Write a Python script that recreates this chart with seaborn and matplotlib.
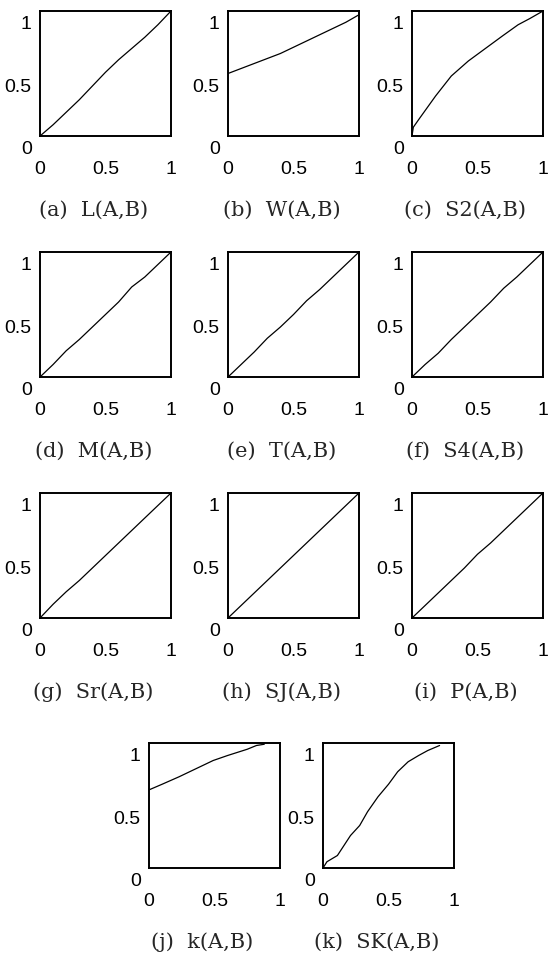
import numpy as np
import pandas as pd
import matplotlib
matplotlib.use("Agg")
import matplotlib.pyplot as plt
from matplotlib.transforms import ScaledTranslation
import seaborn as sns

# -------------------------------------
# DATA
# -------------------------------------
labels = ["(a)  L(A,B)", "(b)  W(A,B)", "(c)  S2(A,B)",
          "(d)  M(A,B)", "(e)  T(A,B)", "(f)  S4(A,B)",
          "(g)  Sr(A,B)", "(h)  SJ(A,B)", "(i)  P(A,B)",
          "(j)  k(A,B)", "(k)  SK(A,B)"]

x_std = [0.0, 0.1, 0.2, 0.3, 0.4, 0.5, 0.6, 0.7, 0.8, 0.9, 1.0]

y_L = [0.0, 0.09, 0.19, 0.29, 0.40, 0.51, 0.61, 0.70, 0.79, 0.89, 1.0]
y_W = [0.50, 0.54, 0.58, 0.62, 0.66, 0.71, 0.76, 0.81, 0.86, 0.91, 0.97]
x_S2 = [0.0, 0.01, 0.05, 0.18, 0.3, 0.43, 0.56, 0.69, 0.81, 0.9, 1.0]
y_S2 = [0.0, 0.07, 0.13, 0.32, 0.48, 0.60, 0.70, 0.80, 0.89, 0.94, 1.0]
y_M = [0.0, 0.10, 0.21, 0.30, 0.40, 0.50, 0.60, 0.72, 0.80, 0.90, 1.0]
y_T = [0.0, 0.10, 0.20, 0.31, 0.40, 0.50, 0.61, 0.70, 0.80, 0.90, 1.0]
y_S4 = [0.0, 0.10, 0.19, 0.30, 0.40, 0.50, 0.60, 0.71, 0.80, 0.90, 1.0]
y_Sr = [0.0, 0.11, 0.21, 0.30, 0.40, 0.50, 0.60, 0.70, 0.80, 0.90, 1.0]
y_SJ = [0.0, 0.10, 0.20, 0.30, 0.40, 0.50, 0.60, 0.70, 0.80, 0.90, 1.0]
y_P = [0.0, 0.10, 0.20, 0.30, 0.40, 0.51, 0.60, 0.70, 0.80, 0.90, 1.0]
x_k = [0.0, 0.1, 0.23, 0.35, 0.49, 0.6, 0.75, 0.82, 0.88]
y_k = [0.625, 0.67, 0.73, 0.79, 0.86, 0.90, 0.95, 0.98, 0.99]
x_SK = [0.0, 0.03, 0.11, 0.16, 0.21, 0.28, 0.34, 0.42, 0.5, 0.57, 0.65, 0.73, 0.8, 0.89]
y_SK = [0.0, 0.05, 0.10, 0.18, 0.26, 0.34, 0.45, 0.57, 0.67, 0.77, 0.85, 0.90, 0.94, 0.98]

curves = [(x_std, y_L), (x_std, y_W), (x_S2, y_S2),
          (x_std, y_M), (x_std, y_T), (x_std, y_S4),
          (x_std, y_Sr), (x_std, y_SJ), (x_std, y_P),
          (x_k, y_k), (x_SK, y_SK)]

ticks = [0, 0.5, 1]
tick_labels = ["0", "0.5", "1"]

# -------------------------------------
# STYLE / LAYOUT
# -------------------------------------
sns.set_style("white")
plt.rcParams["font.family"] = ["Liberation Sans", "DejaVu Sans"]

fig = plt.figure(figsize=(5.5, 9.55), dpi=100)
W, H = 550, 955
aw, ah = 131, 125

lefts = [40, 228, 412]
tops = [11, 252, 493]
positions = [(l, t) for t in tops for l in lefts] + [(149, 743), (323, 743)]

# -------------------------------------
# DRAW PANELS
# -------------------------------------
for (l, t), (xs, ys), lab in zip(positions, curves, labels):
    ax = fig.add_axes([l / W, 1 - (t + ah) / H, aw / W, ah / H])
    df = pd.DataFrame({"x": xs, "y": ys})
    sns.lineplot(data=df, x="x", y="y", ax=ax, color="black", linewidth=0.9)
    ax.set_xlim(0, 1)
    ax.set_ylim(0, 1)
    ax.set_xticks(ticks)
    ax.set_xticklabels(tick_labels)
    ax.set_yticks(ticks)
    ax.set_yticklabels(tick_labels)
    ax.tick_params(axis="both", length=0, labelsize=14, colors="black")
    ax.tick_params(axis="x", pad=18)
    ax.tick_params(axis="y", pad=6)
    for lbl in ax.get_yticklabels():
        lbl.set_transform(lbl.get_transform() + ScaledTranslation(0, -8.3 / 72, fig.dpi_scale_trans))
    for sp in ax.spines.values():
        sp.set_color("black")
        sp.set_linewidth(1.4)
    ax.set_xlabel("")
    ax.set_ylabel("")
    ax.text(0.5 - 12 / aw, -74 / ah, lab, transform=ax.transAxes, ha="center", va="center",
            fontsize=15, family=["DejaVu Serif"])

fig.savefig("out.png", dpi=100)
